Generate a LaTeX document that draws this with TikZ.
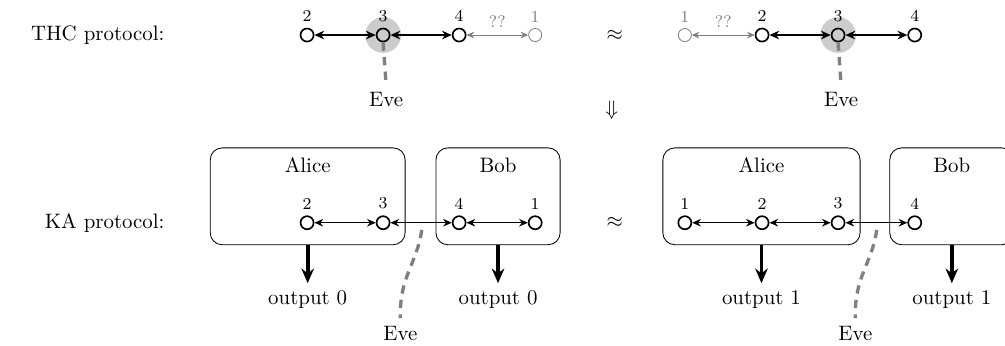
\documentclass[tikz,border=0pt]{standalone}
\usetikzlibrary{arrows.meta}
\begin{document}
\begin{tikzpicture}[thick,>={Stealth[length=2.6pt 2.6,width=2.2pt 2.4]},
  qubit/.style={circle,draw,inner sep=0pt,minimum size=0.22cm},
  faded/.style={circle,draw=gray,thin,inner sep=0pt,minimum size=0.22cm},
  party/.style={rectangle,draw,thin,rounded corners=0.2cm,minimum height=1.63cm},
  eavesdrop/.style={draw=gray,line width=1.6pt,dash pattern=on 4pt off 3pt},
  result/.style={line width=1.8pt,-{Stealth[length=7pt,width=6pt]}},
  every label/.style={font=\footnotesize,inner sep=1pt},
  label distance=1.5pt]
  \useasboundingbox (0,0) rectangle (16.92,-5.81);
  % row labels
  \node[anchor=east] (thc) at (2.9,-0.59) {THC protocol:};
  \node[anchor=east] (ka) at (2.9,-3.75) {KA protocol:};
  \node (approxT) at (10.35,-0.59) {$\approx$};
  \node (approxB) at (10.35,-3.75) {$\approx$};
  \node (implies) at (10.30,-1.85) {$\Downarrow$};
  % THC protocol, left chain
  \fill[gray!40] (6.45,-0.59) circle (0.3cm);
  \node[qubit,label=above:2] (tl2) at (5.17,-0.59) {};
  \node[qubit,label=above:3] (tl3) at (6.45,-0.59) {};
  \node[qubit,label=above:4] (tl4) at (7.73,-0.59) {};
  \node[faded,label={[text=gray]above:1}] (tl1) at (9.01,-0.59) {};
  \draw[<->](tl2)--(tl3);
  \draw[<->](tl3)--(tl4);
  \draw[<->,gray,thin](tl4)--node[above,font=\footnotesize]{??}(tl1);
  \node (tleve) at (6.50,-1.68) {Eve};
  \draw[eavesdrop](tl3.south)--(tleve.north);
  % THC protocol, right chain
  \fill[gray!40] (14.11,-0.59) circle (0.3cm);
  \node[faded,label={[text=gray]above:1}] (tr1) at (11.53,-0.59) {};
  \node[qubit,label=above:2] (tr2) at (12.83,-0.59) {};
  \node[qubit,label=above:3] (tr3) at (14.11,-0.59) {};
  \node[qubit,label=above:4] (tr4) at (15.40,-0.59) {};
  \draw[<->,gray,thin](tr1)--node[above,font=\footnotesize]{??}(tr2);
  \draw[<->](tr2)--(tr3);
  \draw[<->](tr3)--(tr4);
  \node (treve) at (14.16,-1.68) {Eve};
  \draw[eavesdrop](tr3.south)--(treve.north);
  % KA protocol, left
  \node[party,minimum width=3.28cm] (aliceL) at (5.18,-3.305) {};
  \node[party,minimum width=2.09cm] (bobL) at (8.385,-3.305) {};
  \node (aliceLname) at (5.18,-2.78) {Alice};
  \node (bobLname) at (8.385,-2.78) {Bob};
  \node[qubit,label=above:2] (bl2) at (5.17,-3.75) {};
  \node[qubit,label=above:3] (bl3) at (6.45,-3.75) {};
  \node[qubit,label=above:4] (bl4) at (7.73,-3.75) {};
  \node[qubit,label=above:1] (bl1) at (9.01,-3.75) {};
  \draw[<->,semithick](bl2)--(bl3);
  \draw[<->,semithick](bl3)--(bl4);
  \draw[<->,semithick](bl4)--(bl1);
  \node (outAL) at (5.18,-5.05) {output 0};
  \node (outBL) at (8.385,-5.05) {output 0};
  \draw[result](aliceL.south)--(outAL.north);
  \draw[result](bobL.south)--(outBL.north);
  \coordinate (tapL) at (7.10,-3.87);
  \node (bleve) at (6.74,-5.61) {Eve};
  \draw[eavesdrop](tapL) .. controls (7.02,-4.45) and (6.72,-4.65) .. (bleve.north);
  % KA protocol, right
  \node[party,minimum width=3.32cm] (aliceR) at (12.82,-3.305) {};
  \node[party,minimum width=2.09cm] (bobR) at (16.025,-3.305) {};
  \node (aliceRname) at (12.82,-2.78) {Alice};
  \node (bobRname) at (16.025,-2.78) {Bob};
  \node[qubit,label=above:1] (br1) at (11.53,-3.75) {};
  \node[qubit,label=above:2] (br2) at (12.83,-3.75) {};
  \node[qubit,label=above:3] (br3) at (14.11,-3.75) {};
  \node[qubit,label=above:4] (br4) at (15.40,-3.75) {};
  \draw[<->,semithick](br1)--(br2);
  \draw[<->,semithick](br2)--(br3);
  \draw[<->,semithick](br3)--(br4);
  \node (outAR) at (12.82,-5.05) {output 1};
  \node (outBR) at (16.025,-5.05) {output 1};
  \draw[result](aliceR.south)--(outAR.north);
  \draw[result](bobR.south)--(outBR.north);
  \coordinate (tapR) at (14.76,-3.87);
  \node (breve) at (14.40,-5.61) {Eve};
  \draw[eavesdrop](tapR) .. controls (14.68,-4.45) and (14.38,-4.65) .. (breve.north);
\end{tikzpicture}
\end{document}
